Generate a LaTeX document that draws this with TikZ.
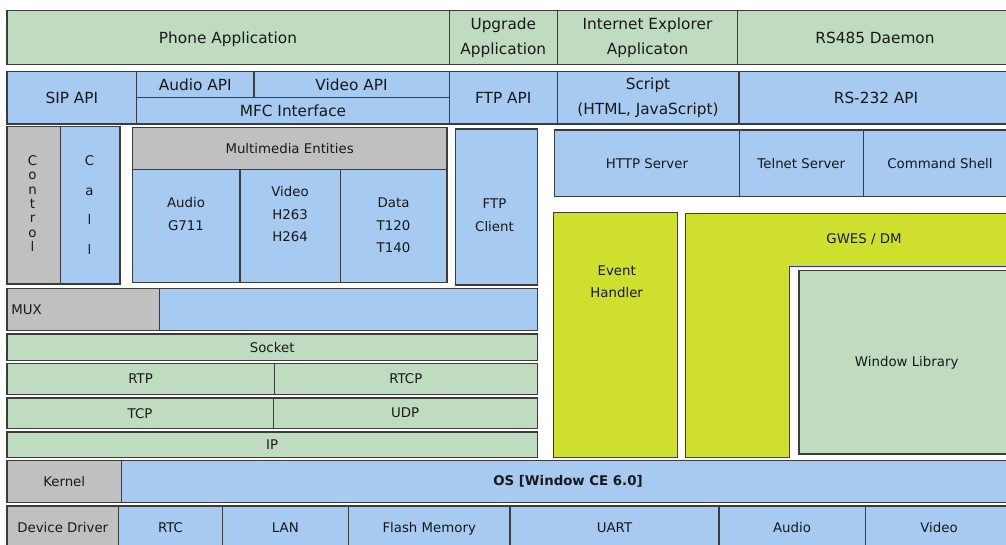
\documentclass[tikz,border=0pt]{standalone}
\usepackage{fontspec}
\setmainfont{DejaVu Sans}
\definecolor{cgreen}{RGB}{192,220,192}
\definecolor{cblue}{RGB}{166,202,240}
\definecolor{cgray}{RGB}{192,192,192}
\definecolor{cyellow}{RGB}{206,223,46}
\definecolor{cborder}{RGB}{60,60,60}
\definecolor{gblue}{RGB}{40,40,230}
\definecolor{ctext}{RGB}{25,25,25}
\tikzset{
  box/.style={draw=cborder, line width=0.8pt, inner sep=0pt, outer sep=0pt, rectangle},
  gbox/.style={box, fill=cgreen},
  bbox/.style={box, fill=cblue},
  ybox/.style={box, fill=cgray},
  lbox/.style={box, fill=cyellow},
  big/.style={font=\fontsize{11.5}{18.4}\selectfont, align=center, inner sep=0pt, text=ctext},
  sm/.style={font=\fontsize{10}{17}\selectfont, align=center, inner sep=0pt, text=ctext},
}
\newcommand\blk[6]{\node[#6, minimum width={(#4-#2)*0.75pt}, minimum height={(#5-#3)*0.75pt}, anchor=north west] (#1) at (#2,#3) {};}
\begin{document}
\begin{tikzpicture}[x=0.75pt,y=-0.75pt]
\useasboundingbox (0,0) rectangle (1006,544);
\fill[white] (0,0) rectangle (1006,544);
\clip (0,0) rectangle (1006,544);
% Row 1
\blk{phone}{7}{10.7}{449.3}{64.3}{gbox}
\blk{upg}{449.3}{10.7}{557.3}{64.3}{gbox}
\blk{ie}{557.3}{10.7}{737.7}{64.3}{gbox}
\blk{rs485}{737.7}{10.7}{1012}{64.3}{gbox}
\node[big] (phone-l) at (228,39) {Phone Application};
\node[big] (upg-l) at (503.3,38) {Upgrade\\Application};
\node[big] (ie-l) at (647.5,38) {Internet Explorer\\Applicaton};
\node[big] (rs485-l) at (875,37.5) {RS485 Daemon};
% Row 2
\blk{sip}{7}{71.7}{136.7}{124}{bbox}
\blk{audapi}{136.7}{71.7}{254}{97.5}{bbox}
\blk{vidapi}{254}{71.7}{449.3}{97.5}{bbox}
\blk{mfc}{136.7}{97.5}{449.3}{124}{bbox}
\blk{ftpapi}{449.3}{71.7}{557.3}{124}{bbox}
\blk{script}{557.3}{71.7}{739}{124}{bbox}
\blk{rs232}{739}{71.7}{1012}{124}{bbox}
\node[big] (sip-l) at (sip) {SIP API};
\node[big] (audapi-l) at (195.3,84.8) {Audio API};
\node[big] (vidapi-l) at (351.5,84.8) {Video API};
\node[big] (mfc-l) at (293,111) {MFC Interface};
\node[big] (ftpapi-l) at (ftpapi) {FTP API};
\node[big] (script-l) at (648,98) {Script\\(HTML, JavaScript)};
\node[big] (rs232-l) at (876,97.8) {RS-232 API};
% Row 3 left
\blk{control}{7}{126.7}{60.7}{284}{ybox}
\blk{call}{60.7}{126.7}{120}{284}{bbox}
\node[font=\fontsize{10}{10.8}\selectfont, align=center, inner sep=0pt, text=ctext] (control-l) at (32.5,203.5) {C\\o\\n\\t\\r\\o\\l};
\node[font=\fontsize{10}{22.2}\selectfont, align=center, inner sep=0pt, text=ctext] (call-l) at (89.5,205) {C\\a\\l\\l};
\blk{me}{132.3}{127.7}{447}{169.3}{ybox}
\blk{audio}{132.3}{169.3}{240}{282.7}{bbox}
\blk{video}{240}{169.3}{340.3}{282.7}{bbox}
\blk{data}{340.3}{169.3}{447}{282.7}{bbox}
\node[sm] (me-l) at (me) {Multimedia Entities};
\node[sm] (audio-l) at (186,214.3) {Audio\\G711};
\node[sm] (video-l) at (290,214.2) {Video\\H263\\H264};
\node[sm] (data-l) at (393.5,225.3) {Data\\T120\\T140};
\blk{ftpc}{455.7}{129}{537.3}{285}{bbox}
\node[sm] (ftpc-l) at (494.5,215.3) {FTP\\Client};
% Row 3 right
\blk{http}{554.7}{130}{739.3}{196.7}{bbox}
\blk{telnet}{739.3}{130}{863.3}{196.7}{bbox}
\blk{cmd}{863.3}{130}{1012}{196.7}{bbox}
\node[sm] (http-l) at (http) {HTTP Server};
\node[sm] (telnet-l) at (telnet) {Telnet Server};
\node[sm] (cmd-l) at (940,163.3) {Command Shell};
\blk{evt}{553.3}{212.3}{677.3}{457.3}{lbox}
\node[sm] (evt-l) at (616.7,281.7) {Event\\Handler};
\fill[cyellow] (685.7,213.7) -- (1012,213.7) -- (1012,266.7) -- (789.3,266.7) -- (789.3,457.3) -- (685.7,457.3) -- cycle;
\draw[gblue, line width=0.8pt] (1012,213.7) -- (685.7,213.7) -- (685.7,457.3) -- (789.3,457.3) -- (789.3,266.7) -- (1012,266.7);
\node[sm] (gwes-l) at (864,239) {GWES / DM};
\blk{winlib}{799}{270.7}{1012}{454}{gbox}
\node[sm] (winlib-l) at (906.7,362.5) {Window Library};
% Network stack
\blk{mux}{7}{288.7}{159.3}{330.7}{ybox}
\blk{muxb}{159.3}{288.7}{537.3}{330.7}{bbox}
\node[sm, anchor=west] (mux-l) at (11,309.5) {MUX};
\blk{socket}{7}{334}{537.3}{360.3}{gbox}
\node[sm] (socket-l) at (socket) {Socket};
\blk{rtp}{7}{363.3}{274.3}{394.7}{gbox}
\blk{rtcp}{274.3}{363.3}{537.3}{394.7}{gbox}
\node[sm] (rtp-l) at (rtp) {RTP};
\node[sm] (rtcp-l) at (rtcp) {RTCP};
\blk{tcp}{7}{398}{273.2}{428.3}{gbox}
\blk{udp}{273.2}{398}{537.3}{428.3}{gbox}
\node[sm] (tcp-l) at (tcp) {TCP};
\node[sm] (udp-l) at (udp) {UDP};
\blk{ip}{7}{432}{537.3}{457.3}{gbox}
\node[sm] (ip-l) at (ip) {IP};
% Kernel / OS
\blk{kernel}{7}{460.7}{121.4}{502.7}{ybox}
\blk{os}{121.4}{460.7}{1012}{502.7}{bbox}
\node[sm] (kernel-l) at (kernel) {Kernel};
\node[sm, font=\fontsize{10}{17}\selectfont\bfseries] (os-l) at (568,481) {OS [Window CE 6.0]};
% Device drivers
\blk{dd}{7}{506}{118.6}{552}{ybox}
\blk{rtc}{118.6}{506}{222.5}{552}{bbox}
\blk{lan}{222.5}{506}{348.3}{552}{bbox}
\blk{flash}{348.3}{506}{510}{552}{bbox}
\blk{uart}{510}{506}{719}{552}{bbox}
\blk{aud2}{719}{506}{865.3}{552}{bbox}
\blk{vid2}{865.3}{506}{1012}{552}{bbox}
\node[sm] (dd-l) at (62.8,527.3) {Device Driver};
\node[sm] (rtc-l) at (170.5,527.3) {RTC};
\node[sm] (lan-l) at (285.4,527.3) {LAN};
\node[sm] (flash-l) at (429.2,529.2) {Flash Memory};
\node[sm] (uart-l) at (614.5,527.3) {UART};
\node[sm] (aud2-l) at (792,527.3) {Audio};
\node[sm] (vid2-l) at (939,527.3) {Video};
\end{tikzpicture}
\end{document}
